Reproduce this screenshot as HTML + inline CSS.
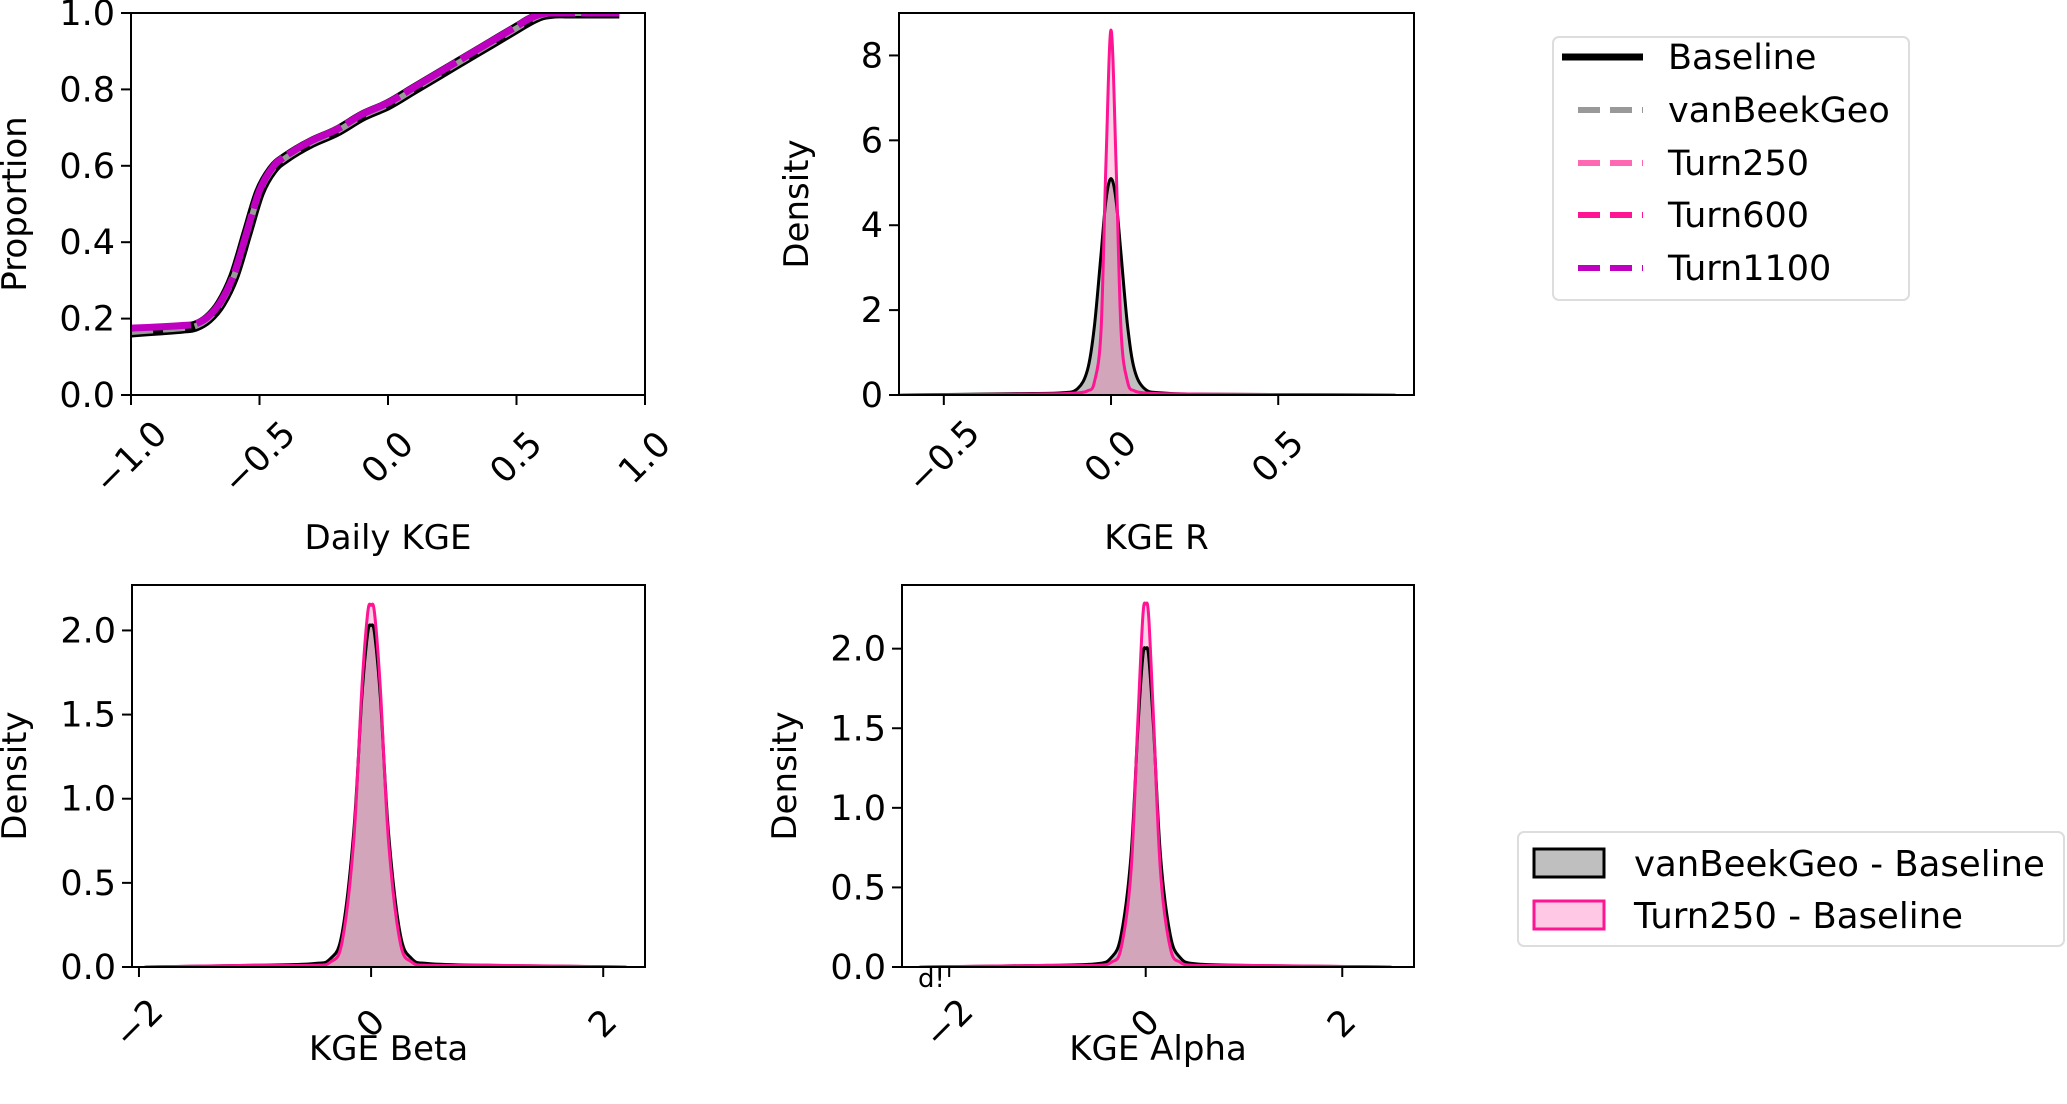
<!DOCTYPE html>
<html><head><meta charset="utf-8"><style>
html,body{margin:0;padding:0;background:#fff;}
svg{display:block;font-family:"DejaVu Sans","Liberation Sans",sans-serif;}
</style></head><body>
<svg id="fig" width="2067" height="1104" viewBox="0 0 2067 1104" xmlns="http://www.w3.org/2000/svg">
<g>
<rect x="1553" y="37" width="356" height="263" rx="6" fill="#fff" stroke="#ddd" stroke-width="2"/>
<line x1="1562" y1="57" x2="1643" y2="57" stroke="#000" stroke-width="7"/>
<text x="1668" y="69" font-size="35">Baseline</text>
<line x1="1578" y1="110" x2="1643" y2="110" stroke="#999" stroke-width="6" stroke-dasharray="22,10"/>
<text x="1668" y="122" font-size="35">vanBeekGeo</text>
<line x1="1578" y1="163" x2="1643" y2="163" stroke="#ff69b4" stroke-width="6" stroke-dasharray="22,10"/>
<text x="1668" y="175" font-size="35">Turn250</text>
<line x1="1578" y1="215" x2="1643" y2="215" stroke="#ff1493" stroke-width="6" stroke-dasharray="22,10"/>
<text x="1668" y="227" font-size="35">Turn600</text>
<line x1="1578" y1="268" x2="1643" y2="268" stroke="#c000c0" stroke-width="6" stroke-dasharray="22,10"/>
<text x="1668" y="280" font-size="35">Turn1100</text>
</g>
<g>
<rect x="1518" y="832" width="546" height="114" rx="6" fill="#fff" stroke="#ddd" stroke-width="2"/>
<rect x="1534" y="849" width="70" height="28" fill="#bfbfbf" stroke="#000" stroke-width="3"/>
<text x="1634" y="876" font-size="35.5">vanBeekGeo - Baseline</text>
<rect x="1534" y="901" width="70" height="28" fill="#ffc8e4" stroke="#ff1493" stroke-width="3"/>
<text x="1634" y="928" font-size="35.5">Turn250 - Baseline</text>
</g>
<text x="918" y="987" font-size="26">d!</text>
</svg>
<script>
// CDF panel data
const cdfX = [-1.0,-0.9,-0.8,-0.75,-0.7,-0.65,-0.6,-0.55,-0.5,-0.45,-0.4,-0.3,-0.2,-0.1,0.0,0.1,0.2,0.3,0.4,0.5,0.55,0.6,0.65,0.7,0.8,0.9];
const cdfBaseline = [0.165,0.17,0.175,0.18,0.2,0.24,0.31,0.42,0.53,0.59,0.62,0.66,0.69,0.73,0.76,0.8,0.84,0.88,0.92,0.96,0.98,0.995,1.0,1.0,1.0,1.0];
const cdfTurn1100 = [0.175,0.178,0.182,0.186,0.205,0.245,0.315,0.425,0.535,0.595,0.625,0.665,0.695,0.735,0.765,0.805,0.845,0.885,0.925,0.965,0.985,0.998,1.0,1.0,1.0,1.0];
// KGE R density
const rX = [-0.63,-0.3,-0.15,-0.1,-0.07,-0.05,-0.03,-0.015,0,0.015,0.03,0.05,0.07,0.1,0.15,0.3,0.85];
const rVanBeek = [0,0.03,0.05,0.15,0.6,1.6,3.3,4.6,5.1,4.6,3.3,1.6,0.6,0.15,0.05,0.02,0];
const rTurn250 = [0,0.02,0.03,0.05,0.1,0.3,1.5,5.5,8.6,5.5,1.5,0.3,0.1,0.05,0.03,0.02,0];
// KGE Beta density
const bX = [-1.95,-1.0,-0.5,-0.35,-0.25,-0.15,-0.08,-0.03,0,0.03,0.08,0.15,0.25,0.35,0.5,1.0,2.2];
const bVanBeek = [0,0.01,0.02,0.05,0.2,0.8,1.6,1.98,2.03,1.98,1.6,0.8,0.2,0.05,0.02,0.01,0];
const bTurn250 = [0,0.01,0.01,0.03,0.15,0.75,1.65,2.1,2.15,2.1,1.65,0.75,0.15,0.03,0.01,0.01,0];
// KGE Alpha density
const aX = [-2.3,-1.0,-0.5,-0.35,-0.25,-0.15,-0.08,-0.03,0,0.03,0.08,0.15,0.25,0.35,0.5,1.0,2.5];
const aVanBeek = [0,0.01,0.02,0.06,0.2,0.7,1.5,1.95,2.0,1.95,1.5,0.7,0.2,0.06,0.02,0.01,0];
const aTurn250 = [0,0.01,0.01,0.03,0.12,0.6,1.55,2.2,2.28,2.2,1.55,0.6,0.12,0.03,0.01,0.01,0];
const cdfXTicks = [-1.0,-0.5,0.0,0.5,1.0];
const cdfYTicks = [0,0.2,0.4,0.6,0.8,1.0];
const rXTicks = [-0.5,0.0,0.5];
const rYTicks = [0,2,4,6,8];
const bXTicks = [-2,0,2];
const bYTicks = [0,0.5,1.0,1.5,2.0];

const NS = 'http://www.w3.org/2000/svg';
const svg = document.getElementById('fig');
function mk(tag, attrs, parent){const e=document.createElementNS(NS,tag);for(const k in attrs)e.setAttribute(k,attrs[k]);(parent||svg).appendChild(e);return e;}
function fmt(v,d){let s=v.toFixed(d);return s.replace('-','\u2212');}

function panel(o){
  const g = mk('g',{});
  
  
  const sx = v => o.x0 + (v-o.xmin)/(o.xmax-o.xmin)*(o.x1-o.x0);
  const sy = v => o.y1 - (v-o.ymin)/(o.ymax-o.ymin)*(o.y1-o.y0);
  const clip = mk('clipPath',{id:o.name+'-clip'},g);
  mk('rect',{x:o.x0,y:o.y0,width:o.x1-o.x0,height:o.y1-o.y0},clip);
  const plot = mk('g',{'clip-path':'url(#'+o.name+'-clip)'},g);
  o.draw(plot,sx,sy);
  const frame = mk('rect',{x:o.x0,y:o.y0,width:o.x1-o.x0,height:o.y1-o.y0,fill:'none',stroke:'#000','stroke-width':2},g);
  
  
  o.xt.forEach(v=>{
    const x=sx(v);
    mk('line',{x1:x,y1:o.y1,x2:x,y2:o.y1+10,stroke:'#000','stroke-width':2},g);
    const t=mk('text',{x:x,y:o.y1+o.xlo,'font-size':35,'text-anchor':'middle','dominant-baseline':'central',transform:'rotate(-45 '+x+' '+(o.y1+o.xlo)+')'},g);
    t.textContent=fmt(v,o.xd);
    
    
  });
  o.yt.forEach(v=>{
    const y=sy(v);
    mk('line',{x1:o.x0,y1:y,x2:o.x0-10,y2:y,stroke:'#000','stroke-width':2},g);
    const t=mk('text',{x:o.x0-16,y:y+12,'font-size':35,'text-anchor':'end'},g);
    t.textContent=fmt(v,o.yd);
    
    
  });
  const xl=mk('text',{x:(o.x0+o.x1)/2,y:o.xly,'font-size':34,'text-anchor':'middle'},g);
  xl.textContent=o.xlabel;
  
  
  const cy=(o.y0+o.y1)/2;
  const yl=mk('text',{x:o.ylx,y:cy,'font-size':34,'text-anchor':'middle',transform:'rotate(-90 '+o.ylx+' '+cy+')'},g);
  yl.textContent=o.ylabel;
  
  
}
function smoothPath(xs,ys,sx,sy){
  const P=xs.map((x,i)=>[sx(x),sy(ys[i])]);
  let d='M'+P[0][0]+','+P[0][1];
  for(let i=0;i<P.length-1;i++){
    const p0=P[Math.max(0,i-1)],p1=P[i],p2=P[i+1],p3=P[Math.min(P.length-1,i+2)];
    const c1=[p1[0]+(p2[0]-p0[0])/6,p1[1]+(p2[1]-p0[1])/6];
    const c2=[p2[0]-(p3[0]-p1[0])/6,p2[1]-(p3[1]-p1[1])/6];
    d+=' C'+c1[0].toFixed(1)+','+c1[1].toFixed(1)+' '+c2[0].toFixed(1)+','+c2[1].toFixed(1)+' '+p2[0].toFixed(1)+','+p2[1].toFixed(1);
  }
  return d;
}
function densDraw(xs,v,t){
  return (g,sx,sy)=>{
    const y0=sy(0);
    const dv=smoothPath(xs,v,sx,sy), dt=smoothPath(xs,t,sx,sy);
    const f1=mk('path',{d:dv+' L'+sx(xs[xs.length-1])+','+y0+' L'+sx(xs[0])+','+y0+' Z',fill:'rgba(128,128,128,0.5)',stroke:'none'},g);
    
    
    const f2=mk('path',{d:dt+' L'+sx(xs[xs.length-1])+','+y0+' L'+sx(xs[0])+','+y0+' Z',fill:'rgba(255,105,180,0.3)',stroke:'none'},g);
    
    
    const l1=mk('path',{d:dv,fill:'none',stroke:'#000','stroke-width':3},g);
    
    
    const l2=mk('path',{d:dt,fill:'none',stroke:'#ff1493','stroke-width':3},g);
    
    
  };
}

panel({name:'cdf-panel',x0:131,x1:645,y0:13,y1:395,xmin:-1,xmax:1,ymin:0,ymax:1,xt:cdfXTicks,yt:cdfYTicks,xd:1,yd:1,xlo:63,xly:549,ylx:26,xlabel:'Daily KGE',ylabel:'Proportion',
 draw:(g,sx,sy)=>{
  const l0=mk('path',{d:smoothPath(cdfX,cdfBaseline,sx,sy),fill:'none',stroke:'#000','stroke-width':11},g);
   
  const l1=mk('path',{d:smoothPath(cdfX,cdfBaseline,sx,sy),fill:'none',stroke:'#999','stroke-width':6,'stroke-dasharray':'22,10'},g);
   
  const l2=mk('path',{d:smoothPath(cdfX,cdfTurn1100,sx,sy),fill:'none',stroke:'#c000c0','stroke-width':7,'stroke-dasharray':'60,6'},g);
   
 }});
panel({name:'kge-r-panel',x0:899,x1:1414,y0:13,y1:395,xmin:-0.634,xmax:0.906,ymin:0,ymax:9.0,xt:rXTicks,yt:rYTicks,xd:1,yd:0,xlo:62,xly:549,ylx:808,xlabel:'KGE R',ylabel:'Density',draw:densDraw(rX,rVanBeek,rTurn250)});
panel({name:'kge-beta-panel',x0:132,x1:645,y0:585,y1:967,xmin:-2.06,xmax:2.36,ymin:0,ymax:2.27,xt:bXTicks,yt:bYTicks,xd:0,yd:1,xlo:57,xly:1060,ylx:26,xlabel:'KGE Beta',ylabel:'Density',draw:densDraw(bX,bVanBeek,bTurn250)});
panel({name:'kge-alpha-panel',x0:902,x1:1414,y0:585,y1:967,xmin:-2.48,xmax:2.73,ymin:0,ymax:2.4,xt:bXTicks,yt:bYTicks,xd:0,yd:1,xlo:57,xly:1060,ylx:796,xlabel:'KGE Alpha',ylabel:'Density',draw:densDraw(aX,aVanBeek,aTurn250)});
</script>
</body></html>
